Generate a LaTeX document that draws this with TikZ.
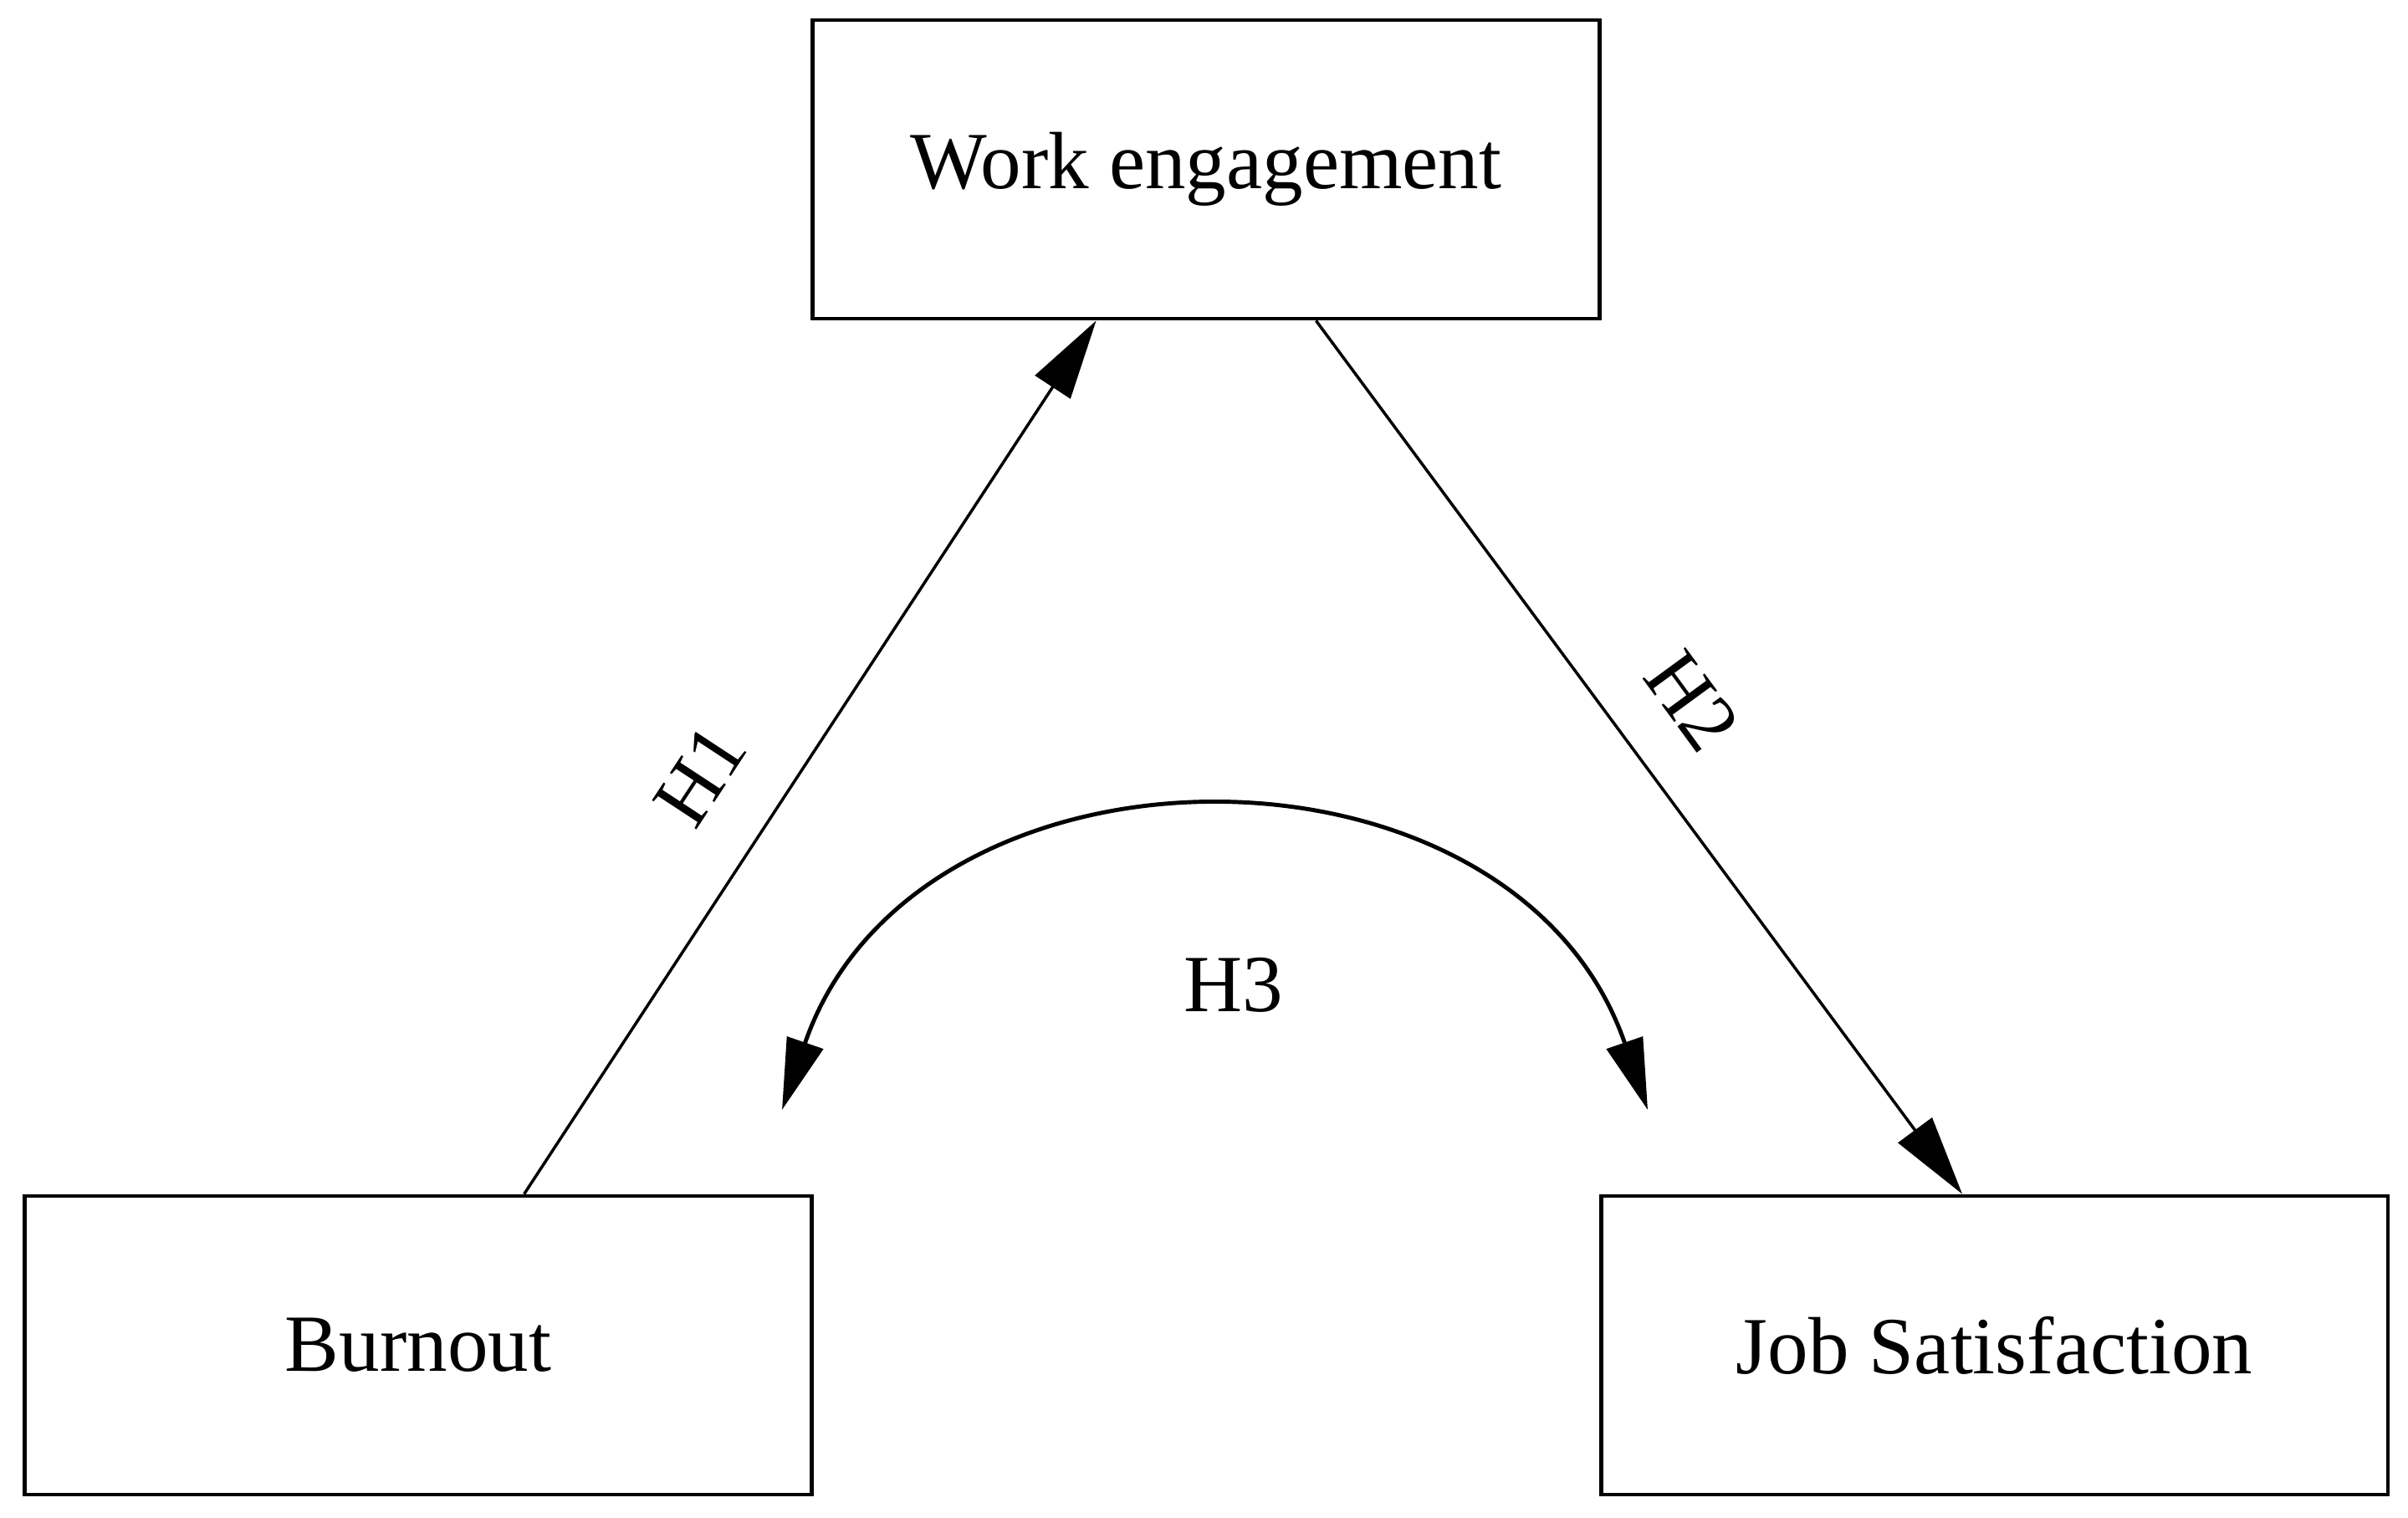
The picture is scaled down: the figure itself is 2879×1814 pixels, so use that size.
\documentclass[tikz,border=0pt]{standalone}
\usepackage{fontspec}
\setmainfont{Liberation Serif}
\usetikzlibrary{arrows.meta}
\begin{document}
\begin{tikzpicture}[x=0.01cm,y=-0.01cm,
  box/.style={draw=black, line width=1.3pt, rectangle, minimum width=9.4cm, minimum height=3.57cm, inner sep=0pt, font=\fontsize{27.6}{33}\selectfont},
  lbl/.style={inner sep=0pt, font=\fontsize{27.6}{33}\selectfont},
  conn/.style={line width=1pt, -{Triangle[length=0.95cm,width=0.5cm]}},
  biconn/.style={line width=1.4pt, {Triangle[length=0.85cm,width=0.45cm]}-{Triangle[length=0.85cm,width=0.45cm]}}]
\useasboundingbox (0,0) rectangle (2879,1814);
\node[box] (work) at (1442,202.5) {Work engagement};
\node[box] (burnout) at (500,1608.5) {Burnout};
\node[box] (job) at (2384.5,1608.5) {Job Satisfaction};
\draw[conn] (burnout.55) -- (work.234.3);
\draw[conn] (work.306.9) -- (job.102.5);
\coordinate (h3l) at (935,1327);
\coordinate (h3r) at (1970,1327);
\draw[biconn] (h3l) .. controls (1095,862) and (1810,862) .. (h3r);
\node[lbl, rotate=56.7] (h1) at (837,927) {H1};
\node[lbl, rotate=-53.8] (h2) at (2023,838) {H2};
\node[lbl] (h3) at (1475,1178) {H3};
\end{tikzpicture}
\end{document}
